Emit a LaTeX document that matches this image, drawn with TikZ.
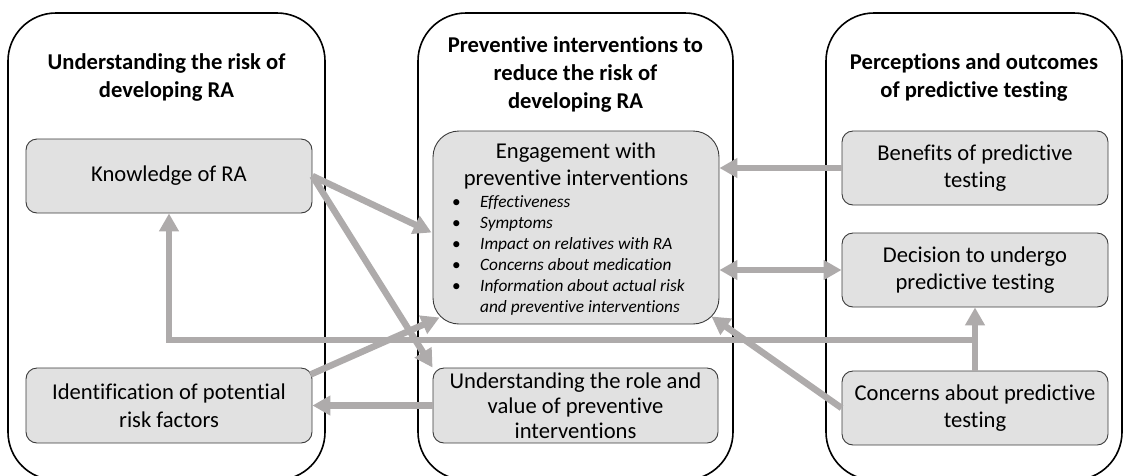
\documentclass[tikz,border=0pt]{standalone}
\usepackage{fontspec}
\setmainfont[Ligatures=NoCommon]{Carlito}
\usetikzlibrary{arrows.meta,calc}
\definecolor{arrgray}{HTML}{AEABAB}
\definecolor{boxfill}{HTML}{E1E1E1}
\definecolor{boxline}{HTML}{3A3A3A}
\begin{document}
\begin{tikzpicture}[x=1pt,y=-1pt,
  panel/.style={draw=black,line width=1.6pt,rounded corners=48pt},
  ptitle/.style={font=\fontsize{22.6}{28}\selectfont\bfseries,align=center,inner sep=0pt},
  boxnode/.style={draw=boxline,fill=boxfill,line width=0.9pt,rounded corners=11pt,
     align=center,font=\fontsize{22.6}{27.5}\selectfont,inner sep=0pt},
  item/.style={font=\fontsize{17.3}{20.7}\selectfont,inner sep=0pt,anchor=base west},
  arr/.style={draw=arrgray,line width=6.5pt,-{Triangle[length=18pt,width=19pt]}},
  darr/.style={draw=arrgray,line width=6.5pt,{Triangle[length=18pt,width=19pt]}-{Triangle[length=18pt,width=19pt]}}
]
\useasboundingbox (0,0) rectangle (1132,475);
\begin{scope}
\clip (0,0) rectangle (1132,475);
\draw[panel] (8,13) rectangle (325,480);
\draw[panel] (418,13) rectangle (733,480);
\draw[panel] (826,13) rectangle (1122,480);
\end{scope}
% titles
\node[ptitle] (t1) at (166.5,77) {Understanding the risk of\\developing RA};
\node[ptitle] (t2) at (575.5,74) {Preventive interventions to\\reduce the risk of\\developing RA};
\node[ptitle] (t3) at (974,77) {Perceptions and outcomes\\of predictive testing};
% boxes
\node[boxnode,minimum width=286pt,minimum height=74pt] (know) at (169,176) {Knowledge of RA};
\node[boxnode,minimum width=286pt,minimum height=75pt] (ident) at (169,405.5) {Identification of potential\\risk factors};
\node[boxnode,minimum width=286pt,minimum height=193pt,rounded corners=26pt] (engage) at (576,227.5) {};
\node[boxnode,minimum width=285pt,minimum height=75pt,font=\fontsize{22.6}{25}\selectfont] (role) at (575.5,405.5) {Understanding the role and\\value of preventive\\interventions};
\node[boxnode,minimum width=266pt,minimum height=74pt] (benef) at (975,168) {Benefits of predictive\\testing};
\node[boxnode,minimum width=266pt,minimum height=74pt] (decis) at (975,270) {Decision to undergo\\predictive testing};
\node[boxnode,minimum width=266pt,minimum height=74pt] (conc) at (975,408) {Concerns about predictive\\testing};
% engagement contents
\node[font=\fontsize{22.6}{27}\selectfont,align=center,inner sep=0pt,anchor=base] (etitle) at (576,185) {Engagement with\\preventive interventions};
\node[item] (i1) at (452,207) {\makebox[28pt][l]{\textbullet}\textit{Effectiveness}};
\node[item] (i2) at (452,228) {\makebox[28pt][l]{\textbullet}\textit{Symptoms}};
\node[item] (i3) at (452,249) {\makebox[28pt][l]{\textbullet}\textit{Impact on relatives with RA}};
\node[item] (i4) at (452,270) {\makebox[28pt][l]{\textbullet}\textit{Concerns about medication}};
\node[item] (i5) at (452,291) {\makebox[28pt][l]{\textbullet}\textit{Information about actual risk}};
\node[item] (i6) at (452,312) {\makebox[28pt][l]{}\textit{and preventive interventions}};
% connectors
\coordinate (junc) at (conc.north |- 0,340);
\draw[arr] (conc.north) -- (junc) -| (know.south);
\draw[arr] (junc) -- (decis.south);
\draw[arr] (know.east) -- ($(engage.west)+(-1,5)$);
\draw[arr] (know.east) -- (role.north west);
\draw[arr] ($(ident.north east)+(-2,7)$) -- ($(engage.south west)+(7,-7)$);
\draw[arr] (role.west) -- (role.west -| ident.east);
\draw[arr] (benef.west) -- (benef.west -| engage.east);
\draw[darr] (decis.west) -- (decis.west -| engage.east);
\draw[arr] (conc.west) -- ($(engage.south east)+(-8,-8)$);
\end{tikzpicture}
\end{document}
